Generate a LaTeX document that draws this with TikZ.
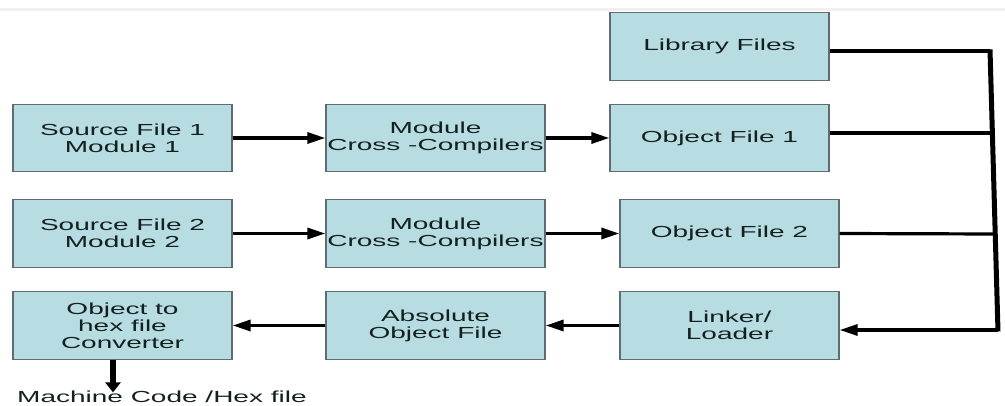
\documentclass[tikz,border=0pt]{standalone}
\usepackage{fontspec}
\setmainfont{Liberation Sans}[FakeStretch=1.75]
\usetikzlibrary{arrows.meta}
\definecolor{boxfill}{HTML}{B7DDE2}
\definecolor{boxline}{HTML}{5E6E70}
\definecolor{txt}{HTML}{142020}
\definecolor{topband}{HTML}{F1F1F1}
\begin{document}
\begin{tikzpicture}[x=1pt,y=-1pt,
  box/.style={draw=boxline, line width=1.3pt, fill=boxfill, minimum width=219pt,
    minimum height=67.5pt, inner sep=0pt, align=center, text=txt,
    font=\fontsize{16}{17}\selectfont},
  conn/.style={line width=3.2pt, -{Triangle[length=18pt,width=11pt]}},
  wire/.style={line width=3.2pt},
  bus/.style={line width=5pt},
  downarrow/.style={line width=5.5pt, -{Triangle[length=10pt,width=15pt]}}]
\useasboundingbox (0,0) rectangle (1005,406);
\draw[topband, line width=3pt] (0,10) -- (1005,10);

\node[box] (lib) at (719.5,46.5) {Library Files};
\node[box] (sf1) at (122.5,138) {Source File 1\\Module 1};
\node[box] (mc1) at (435.5,138) {Module\\Cross -Compilers};
\node[box] (of1) at (719.5,138) {Object File 1};
\node[box] (sf2) at (122.5,233.5) {Source File 2\\Module 2};
\node[box] (mc2) at (435.5,233.5) {Module\\Cross -Compilers};
\node[box] (of2) at (729.5,233.5) {Object File 2};
\node[box] (ohx) at (122.5,325.5) {Object to\\hex file\\Converter};
\node[box] (abs) at (435.5,325.5) {Absolute\\Object File};
\node[box] (lnk) at (729.5,325.5) {Linker/\\Loader};
\node[anchor=base west, inner sep=0pt, text=txt, font=\fontsize{16}{17}\selectfont] (out) at (17,402.5) {Machine Code /Hex file};

\coordinate (b1) at (990,51);
\coordinate (b2) at (992.4,133);
\coordinate (b3) at (995.3,234);
\coordinate (b4) at (998,330);

\draw[conn] (sf1) -- (mc1);
\draw[conn] (mc1) -- (of1);
\draw[conn] (sf2) -- (mc2);
\draw[conn] (mc2) -- (of2);
\draw[conn] (lnk) -- (abs);
\draw[conn] (abs) -- (ohx);

\draw[wire] ([yshift=-4.5pt]lib.east) -- (b1);
\draw[wire] ([yshift=5pt]of1.east) -- (b2);
\draw[wire] (of2.east) -- (b3);
\draw[bus] ([yshift=1.5pt]b1) -- ([yshift=-1.5pt]b4);
\draw[conn] (b4) -- ([yshift=-4.5pt]lnk.east);

\draw[downarrow] ([xshift=-9.5pt]ohx.south) -- ++(0,32.5);
\end{tikzpicture}
\end{document}
